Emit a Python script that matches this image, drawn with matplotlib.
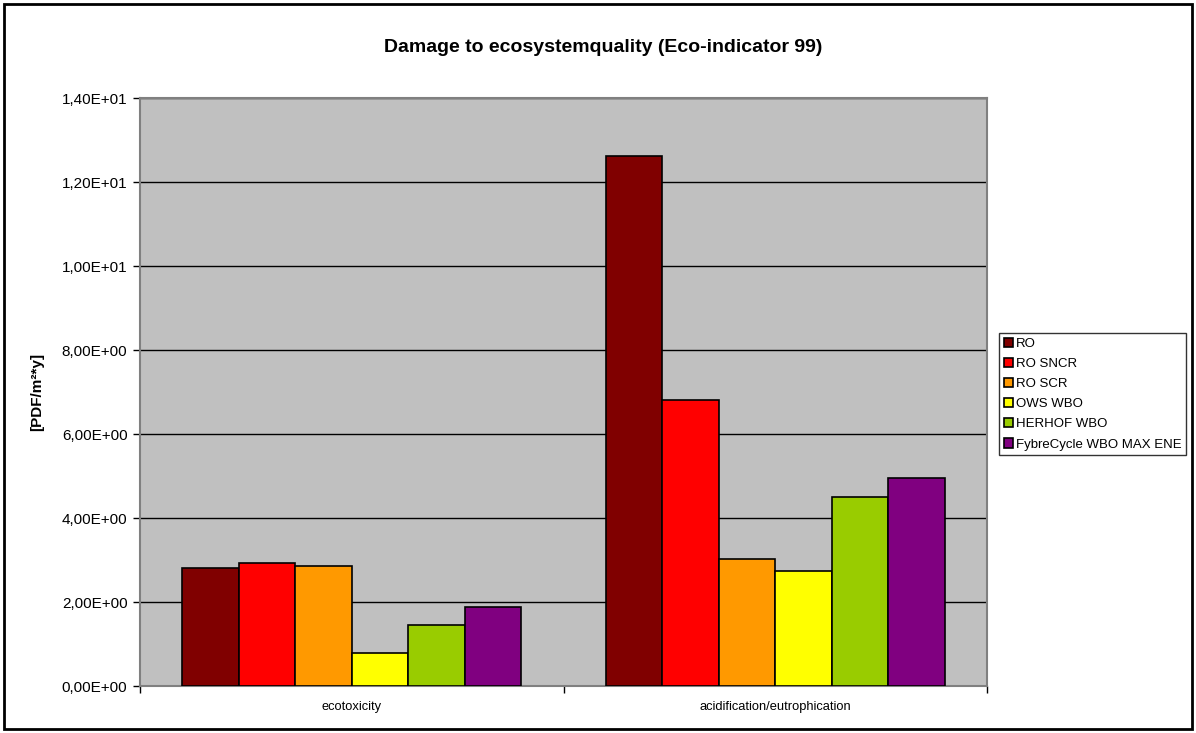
import numpy as np
import matplotlib
matplotlib.use("Agg")
import matplotlib.pyplot as plt
from matplotlib.ticker import FuncFormatter, FixedLocator
from matplotlib.patches import Rectangle

plt.rcParams['font.family'] = ['Liberation Sans', 'DejaVu Sans']

# Eco-indicator 99 damage to ecosystem quality
categories = ["ecotoxicity", "acidification/eutrophication"]
scenarios = ["RO", "RO SNCR", "RO SCR", "OWS WBO", "HERHOF WBO", "FybreCycle WBO MAX ENE"]
values = {
    "RO":                     [2.82, 12.62],
    "RO SNCR":                [2.92, 6.82],
    "RO SCR":                 [2.85, 3.03],
    "OWS WBO":                [0.78, 2.74],
    "HERHOF WBO":             [1.45, 4.49],
    "FybreCycle WBO MAX ENE": [1.87, 4.95],
}
colors = ["#800000", "#FF0000", "#FF9900", "#FFFF00", "#99CC00", "#800080"]

fig = plt.figure(figsize=(11.96, 7.33), dpi=100)
ax = fig.add_axes([140/1196, 47/733, 847/1196, 588/733])
ax.set_facecolor("#C0C0C0")

x = np.arange(len(categories))
n = len(scenarios)
w = 1 / (n + 1.5)  # gap width 150%
for i, (name, c) in enumerate(zip(scenarios, colors)):
    ax.bar(x + (i - (n - 1) / 2) * w, values[name], width=w, color=c,
           edgecolor="black", linewidth=1.2, label=name, zorder=3)

ax.set_xlim(-0.5, 1.5)
ax.set_ylim(0, 14)
ax.set_yticks(np.arange(0, 14.1, 2))
ax.yaxis.set_major_formatter(FuncFormatter(lambda v, p: f"{v:.2E}".replace(".", ",")))
ax.yaxis.grid(True, color="black", linewidth=1, zorder=1)
ax.tick_params(axis="y", labelsize=11, length=5, width=1, direction="out", pad=4)

# category boundaries as major ticks, names as minor ticks
ax.xaxis.set_major_locator(FixedLocator([-0.5, 0.5, 1.5]))
ax.xaxis.set_major_formatter(FuncFormatter(lambda v, p: ""))
ax.xaxis.set_minor_locator(FixedLocator(x))
ax.set_xticklabels(categories, minor=True)
ax.tick_params(axis="x", which="major", length=5, width=1, direction="out")
ax.tick_params(axis="x", which="minor", length=0, labelsize=9.3, pad=11)

for side in ["top", "right", "left", "bottom"]:
    ax.spines[side].set_color("#808080")
    ax.spines[side].set_linewidth(1.5)

ax.set_ylabel("[PDF/m²*y]", fontsize=11, fontweight="bold", labelpad=13)
fig.text(603/1196, 1 - 47/733, "Damage to ecosystemquality (Eco-indicator 99)",
         ha="center", va="center", fontsize=14, fontweight="bold")

leg = fig.legend(loc="upper left", bbox_to_anchor=(999/1196, 1 - 333/733),
                 fontsize=9.5, frameon=True, fancybox=False, handlelength=0.7,
                 handleheight=0.7, handletextpad=0.25, borderpad=0.35,
                 labelspacing=0.6, borderaxespad=0)
leg.get_frame().set_edgecolor("black")
leg.get_frame().set_linewidth(1)

# outer chart border
fig.patches.append(Rectangle((4/1196, 4/733), 1188/1196, 725/733, transform=fig.transFigure,
                             fill=False, edgecolor="black", linewidth=2))

fig.savefig("out.png", dpi=100)
